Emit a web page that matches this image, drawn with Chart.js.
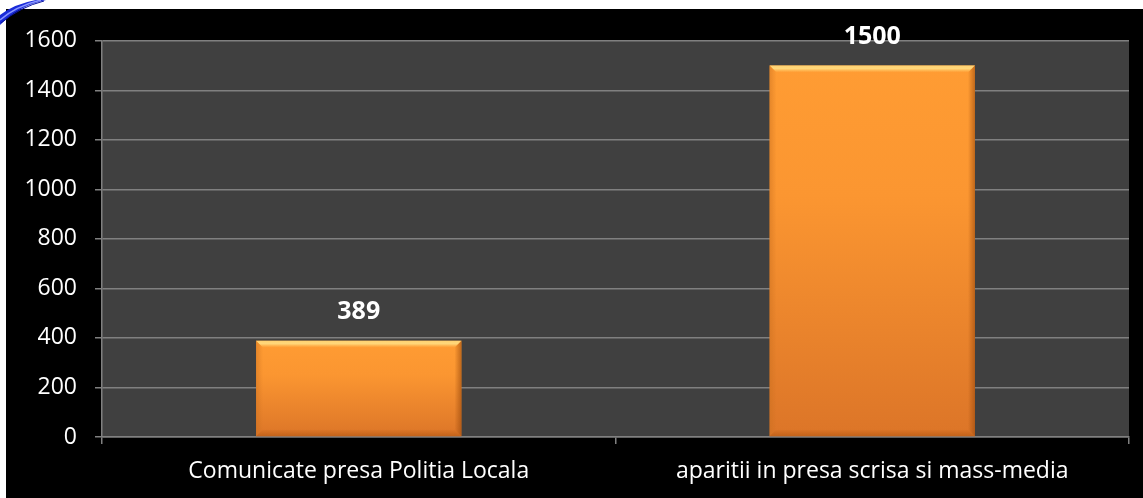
<!DOCTYPE html>
<html>
<head>
<meta charset="utf-8">
<script src="https://cdn.jsdelivr.net/npm/chart.js@4.4.0/dist/chart.umd.min.js"></script>
<style>
  html, body { margin: 0; padding: 0; background: #ffffff; }
  body { width: 1143px; height: 498px; position: relative; overflow: hidden; }
  #wrap { position: absolute; left: 6px; top: 9px; width: 1137px; height: 489px; background: #000000; }
  #swoosh { position: absolute; left: 0; top: 0; }
</style>
</head>
<body>
<div id="wrap"><canvas id="c" width="1137" height="489"></canvas></div>
<svg id="swoosh" width="60" height="40" viewBox="0 0 60 40">
  <path d="M0 25 Q18 6 46 0 L36 0 Q14 4 0 15 Z" fill="#1a2bd9"/>
  <path d="M0 20 Q16 6 41 0" stroke="#8a96ff" stroke-width="1.5" fill="none"/>
  <path d="M1 23 Q20 7 44 1" stroke="#0a14a0" stroke-width="1" fill="none"/>
</svg>
<script>
const categories = ["Comunicate presa Politia Locala", "aparitii in presa scrisa si mass-media"];
const values = [389, 1500];
const yTicks = [0, 200, 400, 600, 800, 1000, 1200, 1400, 1600];

const plotBg = {
  id: 'plotBg',
  beforeDraw(chart) {
    const {ctx, chartArea: a} = chart;
    ctx.save();
    ctx.fillStyle = '#404040';
    ctx.fillRect(a.left, a.top, a.right - a.left, a.bottom - a.top);
    ctx.restore();
  }
};

const bevel = {
  id: 'bevel',
  afterDatasetsDraw(chart) {
    const ctx = chart.ctx;
    const meta = chart.getDatasetMeta(0);
    ctx.save();
    meta.data.forEach((bar, i) => {
      const l = bar.x - bar.width / 2, r = bar.x + bar.width / 2;
      const t = bar.y, b = bar.base;
      const e = 7;
      let g = ctx.createLinearGradient(0, t, 0, t + e);
      g.addColorStop(0, 'rgba(255,215,120,0.9)');
      g.addColorStop(0.45, 'rgba(255,230,140,0.8)');
      g.addColorStop(1, 'rgba(255,200,100,0.0)');
      ctx.fillStyle = g;
      ctx.beginPath();
      ctx.moveTo(l, t); ctx.lineTo(r, t); ctx.lineTo(r - e, t + e); ctx.lineTo(l + e, t + e); ctx.closePath();
      ctx.fill();
      g = ctx.createLinearGradient(l, 0, l + e, 0);
      g.addColorStop(0, 'rgba(200,110,30,0.45)');
      g.addColorStop(1, 'rgba(200,110,30,0)');
      ctx.fillStyle = g;
      ctx.beginPath();
      ctx.moveTo(l, t); ctx.lineTo(l + e, t + e); ctx.lineTo(l + e, b - e); ctx.lineTo(l, b); ctx.closePath();
      ctx.fill();
      g = ctx.createLinearGradient(r, 0, r - e, 0);
      g.addColorStop(0, 'rgba(150,70,10,0.6)');
      g.addColorStop(1, 'rgba(150,70,10,0)');
      ctx.fillStyle = g;
      ctx.beginPath();
      ctx.moveTo(r, t); ctx.lineTo(r - e, t + e); ctx.lineTo(r - e, b - e); ctx.lineTo(r, b); ctx.closePath();
      ctx.fill();
      g = ctx.createLinearGradient(0, b, 0, b - e);
      g.addColorStop(0, 'rgba(170,80,10,0.5)');
      g.addColorStop(1, 'rgba(170,80,10,0)');
      ctx.fillStyle = g;
      ctx.beginPath();
      ctx.moveTo(l, b); ctx.lineTo(r, b); ctx.lineTo(r - e, b - e); ctx.lineTo(l + e, b - e); ctx.closePath();
      ctx.fill();
      ctx.fillStyle = '#ffffff';
      ctx.font = 'bold 25px "Open Sans"';
      ctx.textAlign = 'center';
      ctx.textBaseline = 'middle';
      ctx.fillText(String(values[i]), bar.x, t - 29);
    });
    ctx.restore();
  }
};

new Chart(document.getElementById('c'), {
  type: 'bar',
  data: {
    labels: categories,
    datasets: [{
      data: values,
      categoryPercentage: 1.0,
      barPercentage: 0.4,
      borderWidth: 0,
      backgroundColor(ctx) {
        const chart = ctx.chart;
        const ys = chart.scales && chart.scales.y;
        if (!chart.chartArea || !ys || ctx.raw === undefined) return '#F58F2E';
        const top = ys.getPixelForValue(ctx.raw);
        const bot = ys.getPixelForValue(0);
        const g = chart.ctx.createLinearGradient(0, top, 0, bot);
        g.addColorStop(0, '#FF9C33');
        g.addColorStop(0.35, '#FB9631');
        g.addColorStop(1, '#DC7528');
        return g;
      }
    }]
  },
  options: {
    responsive: false,
    animation: false,
    devicePixelRatio: 1,
    layout: { padding: { top: 30, right: 14, left: 0, bottom: 0 } },
    plugins: { legend: { display: false }, tooltip: { enabled: false } },
    scales: {
      x: {
        offset: true,
        grid: { display: true, drawOnChartArea: false, offset: true, color: '#808080', lineWidth: 1.5, tickLength: 7 },
        border: { display: true, color: '#808080', width: 1.5 },
        ticks: { color: '#ffffff', font: { family: '"Open Sans"', size: 23 }, padding: 14, maxRotation: 0 },
        afterFit(s) { s.height = 61; }
      },
      y: {
        min: 0, max: 1600,
        afterBuildTicks(s) { s.ticks = yTicks.map(v => ({ value: v })); },
        grid: { color: '#808080', lineWidth: 1.5, tickLength: 7 },
        border: { display: true, color: '#808080', width: 1.5 },
        ticks: { color: '#ffffff', font: { family: '"Open Sans"', size: 23 }, padding: 18, callback: v => String(v) },
        afterFit(s) { s.width = 96; }
      }
    }
  },
  plugins: [plotBg, bevel]
});
</script>
</body>
</html>
